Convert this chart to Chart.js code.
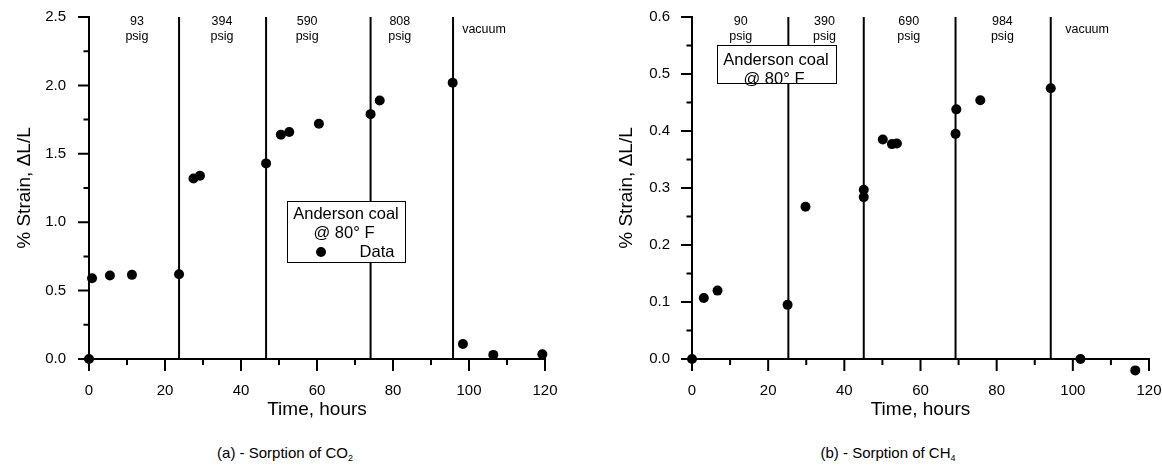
<!DOCTYPE html>
<html>
<head>
<meta charset="utf-8">
<script src="https://cdn.jsdelivr.net/npm/chart.js@4.4.0/dist/chart.umd.min.js"></script>
<style>
  body { margin: 0; background: #fff; width: 1162px; height: 466px; position: relative; overflow: hidden;
         font-family: "Liberation Sans", Arial, sans-serif; color: #000; }
  #c1 { position: absolute; left: 0; top: 0; }
  #c2 { position: absolute; left: 590px; top: 0; }
  .cap { position: absolute; top: 444px; width: 240px; text-align: center; font-size: 15px; line-height: 17px; }
  .cap sub { font-size: 9px; vertical-align: -3px; }
</style>
</head>
<body>
<canvas id="c1" width="580" height="421"></canvas>
<canvas id="c2" width="572" height="421"></canvas>
<div class="cap" style="left:165px">(a) - Sorption of CO<sub>2</sub></div>
<div class="cap" style="left:768px">(b) - Sorption of CH<sub>4</sub></div>
<script>
// (a) CO2 run
const co2Time   = [0, 0.8, 5.5, 11.3, 23.7, 27.5, 29.2, 46.6, 50.5, 52.7, 60.5, 74.1, 76.5, 95.7, 98.4, 106.4, 119.3];
const co2Strain = [0, 0.59, 0.61, 0.615, 0.62, 1.32, 1.34, 1.43, 1.64, 1.66, 1.72, 1.79, 1.89, 2.02, 0.11, 0.03, 0.035];
const co2Steps  = [23.7, 46.6, 74.1, 95.8];
const co2Labels = [['93', 'psig'], ['394', 'psig'], ['590', 'psig'], ['808', 'psig'], ['vacuum']];
const co2LabelAt = [12.6, 35, 57.4, 81.8, 98.2];

// (b) CH4 run
const ch4Time   = [0, 3.1, 6.7, 25.1, 29.8, 45.1, 45.1, 50.1, 52.5, 53.8, 69.4, 69.2, 75.7, 94.2, 102, 116.4];
const ch4Strain = [0, 0.107, 0.12, 0.095, 0.267, 0.297, 0.284, 0.385, 0.377, 0.378, 0.438, 0.395, 0.454, 0.475, 0.0, -0.02];
const ch4Steps  = [25.3, 45.1, 69.2, 94.2];
const ch4Labels = [['90', 'psig'], ['390', 'psig'], ['690', 'psig'], ['984', 'psig'], ['vacuum']];
const ch4LabelAt = [12.8, 34.8, 56.9, 81.5, 98];

const FONT = '"Liberation Sans", Arial, sans-serif';
const yTitle = '% Strain, \u0394L/L';

// outward major/minor tick marks on both axes
const tickMarks = {
  id: 'tickMarks',
  afterDraw(chart, args, opts) {
    const { ctx } = chart;
    const x = chart.scales.x, y = chart.scales.y;
    ctx.save();
    ctx.strokeStyle = '#000';
    ctx.lineWidth = 2;
    ctx.beginPath();
    const nx = Math.round((x.max - x.min) / opts.xMinor);
    for (let i = 0; i <= nx; i++) {
      const px = x.getPixelForValue(x.min + i * opts.xMinor);
      const len = i % 2 === 0 ? 12 : 6;
      ctx.moveTo(px, y.bottom);
      ctx.lineTo(px, y.bottom + len);
    }
    const ny = Math.round((y.max - y.min) / opts.yMinor);
    for (let i = 0; i <= ny; i++) {
      const py = y.getPixelForValue(y.min + i * opts.yMinor);
      const len = i % 2 === 0 ? 11 : 5.5;
      ctx.moveTo(x.left, py);
      ctx.lineTo(x.left - len, py);
    }
    ctx.stroke();
    ctx.restore();
  }
};

// pressure labels above each step and the boxed legend
const notes = {
  id: 'notes',
  afterDatasetsDraw(chart, args, opts) {
    const { ctx, chartArea } = chart;
    const x = chart.scales.x;

    // points that fall just below the axis are skipped by Chart.js, draw them anyway
    const meta = chart.getDatasetMeta(chart.data.datasets.length - 1);
    const full = { left: 0, top: 0, right: chart.width, bottom: chart.height };
    meta.data.forEach(el => {
      if (el.y > chartArea.bottom || el.y < chartArea.top) el.draw(ctx, full);
    });

    ctx.save();
    ctx.fillStyle = '#000';
    ctx.font = '12.5px ' + FONT;
    ctx.textBaseline = 'middle';
    opts.labels.forEach((lines, i) => {
      const px = x.getPixelForValue(opts.at[i]);
      if (lines.length === 1) {
        ctx.textAlign = 'left';
        ctx.fillText(lines[0], px, chartArea.top + 13);
      } else {
        ctx.textAlign = 'center';
        ctx.fillText(lines[0], px, chartArea.top + 5);
        ctx.fillText(lines[1], px, chartArea.top + 20);
      }
    });

    const b = opts.box;
    const bx = chartArea.left + b.dx, by = chartArea.top + b.dy;
    ctx.fillStyle = '#fff';
    ctx.fillRect(bx, by, b.w, b.h);
    ctx.strokeStyle = '#000';
    ctx.lineWidth = 1;
    ctx.strokeRect(bx + 0.5, by + 0.5, b.w, b.h);
    ctx.fillStyle = '#000';
    ctx.font = '16.5px ' + FONT;
    ctx.textAlign = 'center';
    ctx.fillText('Anderson coal', bx + 59, by + b.l1);
    ctx.fillText('@ 80\u00b0 F', bx + 57, by + b.l2);
    if (b.data) {
      ctx.beginPath();
      ctx.arc(bx + 34, by + 51, 5, 0, Math.PI * 2);
      ctx.fill();
      ctx.fillText('Data', bx + 90, by + 51);
    }
    ctx.restore();
  }
};

// keep tick label padding from pushing the plot area around
function noEdgePad(s) {
  s.paddingTop = 0; s.paddingBottom = 0; s.paddingLeft = 0; s.paddingRight = 0;
}

function makeChart(id, times, strains, steps, yMax, yStep, yMinor, labels, at, box, yW, yTitlePad, yTickPad, padRight) {
  const pts = times.map((t, i) => ({ x: t, y: strains[i] }));
  const lines = steps.map(s => ({
    data: [{ x: s, y: 0 }, { x: s, y: yMax }],
    showLine: true, pointRadius: 0, borderColor: '#000', borderWidth: 2, clip: false
  }));
  return new Chart(document.getElementById(id), {
    type: 'scatter',
    data: {
      datasets: [
        ...lines,
        { data: pts, pointRadius: 5, backgroundColor: '#000', borderWidth: 0, clip: false }
      ]
    },
    options: {
      responsive: false,
      animation: false,
      devicePixelRatio: 1,
      layout: { padding: { top: 17, right: padRight, left: 0, bottom: 0 } },
      plugins: {
        legend: { display: false },
        tooltip: { enabled: false },
        tickMarks: { xMinor: 10, yMinor: yMinor },
        notes: { labels, at, box }
      },
      scales: {
        x: {
          type: 'linear', min: 0, max: 120,
          grid: { display: false, drawTicks: false },
          border: { display: true, color: '#000', width: 2 },
          ticks: { stepSize: 20, color: '#000', font: { family: FONT, size: 15 }, padding: 23, maxRotation: 0 },
          title: { display: true, text: 'Time, hours', color: '#000', font: { family: FONT, size: 19 }, padding: { top: 0, bottom: 0 } },
          afterFit: s => { s.height = 421 - 359; noEdgePad(s); }
        },
        y: {
          type: 'linear', min: 0, max: yMax,
          grid: { display: false, drawTicks: false },
          border: { display: true, color: '#000', width: 2 },
          ticks: { stepSize: yStep, color: '#000', font: { family: FONT, size: 15 }, padding: yTickPad,
                   callback: v => v.toFixed(1) },
          title: { display: true, text: yTitle, color: '#000', font: { family: FONT, size: 19 }, padding: { top: yTitlePad, bottom: 0 } },
          afterFit: s => { s.width = yW; noEdgePad(s); }
        }
      }
    },
    plugins: [tickMarks, notes]
  });
}

makeChart('c1', co2Time, co2Strain, co2Steps, 2.5, 0.5, 0.25, co2Labels, co2LabelAt,
  { dx: 198, dy: 184, w: 118, h: 61, l1: 13, l2: 32, data: true }, 89, 13.5, 23, 35);
makeChart('c2', ch4Time, ch4Strain, ch4Steps, 0.6, 0.1, 0.05, ch4Labels, ch4LabelAt,
  { dx: 25, dy: 28, w: 119, h: 38, l1: 15.7, l2: 34, data: false }, 102, 25, 22, 13);
</script>
</body>
</html>
